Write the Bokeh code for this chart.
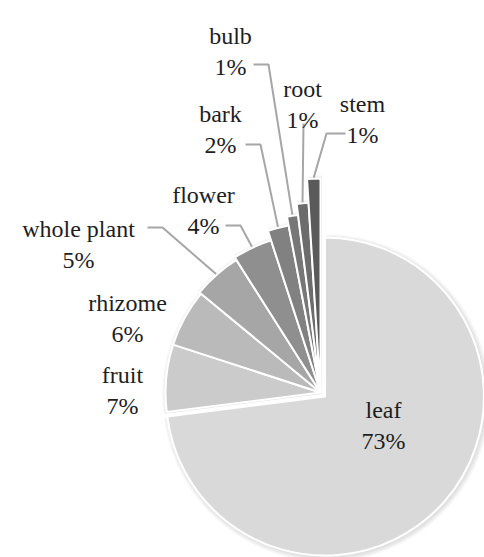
import math
from bokeh.plotting import figure
from bokeh.models import Range1d
from bokeh.core.properties import value
from bokeh.embed import file_html
from bokeh.resources import INLINE

# Plant parts used, share of records (%)
parts = ["leaf", "fruit", "rhizome", "whole plant", "flower", "bark", "bulb", "root", "stem"]
shares = [73, 7, 6, 5, 4, 2, 1, 1, 1]

# Styling per slice
fill_colors = ["#d9d9d9", "#cbcbcb", "#bababa", "#a6a6a6", "#8f8f8f",
               "#818181", "#777777", "#6c6c6c", "#5a5a5a"]
slice_radius = [159, 155, 155, 157, 160, 170, 179, 190, 214]
explode = [6, 0, 0, 0, 0, 0, 0, 0, 0]

W, H = 484, 557
CX, CY = 320, 392          # pie centre in page pixels (y down)

# Label anchors (centre x, first baseline y) in page pixels
label_anchor = {
    "leaf": (383, 409), "fruit": (122, 374), "rhizome": (127, 302),
    "whole plant": (78, 228), "flower": (203, 194), "bark": (220, 113),
    "bulb": (230, 35), "root": (302, 88), "stem": (362, 103),
}
LINE_GAP = 31
# Leader lines: start point near the label and horizontal run before bending
leader_start = {
    "whole plant": (147, 227, 15), "flower": (225, 225, 15),
    "bark": (245, 144, 15), "bulb": (253, 64, 15),
    "root": (303, 123, 0), "stem": (345, 133, -19),
}


def fy(y):
    return H - y


p = figure(width=W, height=H, x_range=Range1d(0, W), y_range=Range1d(0, H),
           toolbar_location=None, output_backend="svg",
           x_axis_location=None, y_axis_location=None, min_border=0)
p.grid.visible = False
p.outline_line_color = None

total = float(sum(shares))
cum = 0.0
geo = {}
xs, ys, rs, a0s, a1s = [], [], [], [], []
for name, v, r, ex in zip(parts, shares, slice_radius, explode):
    s = cum / total
    e = (cum + v) / total
    cum += v
    a_start = math.pi / 2 - e * 2 * math.pi
    a_end = math.pi / 2 - s * 2 * math.pi
    mid = (a_start + a_end) / 2
    x0 = CX + ex * math.cos(mid)
    y0 = fy(CY) + ex * math.sin(mid)
    xs.append(x0); ys.append(y0); rs.append(r); a0s.append(a_start); a1s.append(a_end)
    geo[name] = (x0, y0, r, mid)

# soft drop shadow
for k in range(1, 6):
    p.wedge(x=[x + 1.5 for x in xs], y=[y - 1.5 for y in ys], radius=[r + k for r in rs],
            start_angle=a0s, end_angle=a1s, fill_color="black", fill_alpha=0.025,
            line_color=None)

p.wedge(x=xs, y=ys, radius=rs, start_angle=a0s, end_angle=a1s,
        fill_color=fill_colors, line_color="white", line_width=2)

# leader lines
lx, ly = [], []
for name, (sx, sy, dx) in leader_start.items():
    x0, y0, r, mid = geo[name]
    ex_ = x0 + (r + 1) * math.cos(mid)
    ey_ = y0 + (r + 1) * math.sin(mid)
    lx.append([sx, sx + dx, ex_])
    ly.append([fy(sy), fy(sy), ey_])
p.multi_line(xs=lx, ys=ly, line_color="#a6a6a6", line_width=2)

# labels: one small text glyph per slice (name above, share below)
serif = value("Liberation Serif")
for name, v in zip(parts, shares):
    ax, ay = label_anchor[name]
    p.text(x=[ax, ax], y=[fy(ay), fy(ay + LINE_GAP)], text=[name, f"{v}%"],
           text_font=serif, text_font_size="24px", text_align="center",
           text_baseline="alphabetic", text_color="#1e1e1e")

open("out.html", "w").write(file_html(p, INLINE))
